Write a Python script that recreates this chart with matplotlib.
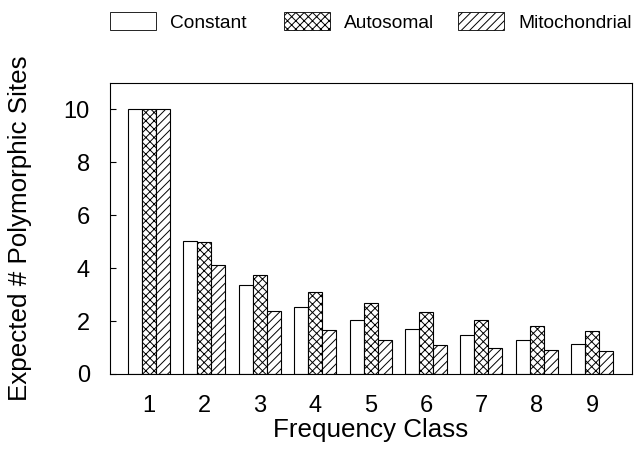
import matplotlib
matplotlib.use("Agg")
import matplotlib.pyplot as plt
import numpy as np
from matplotlib.patches import Patch

categories = [1, 2, 3, 4, 5, 6, 7, 8, 9]
constant = [10.0, 5.03, 3.36, 2.53, 2.04, 1.70, 1.47, 1.29, 1.14]
autosomal = [10.0, 5.0, 3.75, 3.09, 2.67, 2.33, 2.04, 1.82, 1.63]
mitochondrial = [10.0, 4.11, 2.37, 1.65, 1.28, 1.09, 0.97, 0.92, 0.87]
series_names = ["Constant", "Autosomal", "Mitochondrial"]
yticks = [0, 2, 4, 6, 8, 10]

plt.rcParams['font.family'] = ['Liberation Sans', 'DejaVu Sans']
plt.rcParams['hatch.linewidth'] = 0.7

fig = plt.figure(figsize=(6.36, 4.49), dpi=100)
ax = fig.add_axes([110/636, (449-374)/449, (632-110)/636, (374-83)/449])

x = np.array(categories, dtype=float)
w = 0.253
hatches = ['', 'xxxx', '////']
data = [constant, autosomal, mitochondrial]
for i, (vals, h, name) in enumerate(zip(data, hatches, series_names)):
    ax.bar(x + (i - 1) * w, vals, width=w, facecolor='white', edgecolor='black',
           linewidth=0.8, hatch=h, label=name)

ax.set_xlim(0.296, 9.72)
ax.set_ylim(0, 11)
ax.set_yticks(yticks)
ax.set_xticks(categories)
ax.tick_params(axis='y', direction='in', length=4, labelsize=17, pad=14.5)
ax.tick_params(axis='x', length=0, labelsize=17, pad=15)
for s in ax.spines.values():
    s.set_linewidth(0.8)
ax.set_xlabel("Frequency Class", fontsize=18.7, labelpad=1)
ax.set_ylabel("Expected # Polymorphic Sites", fontsize=18.7, labelpad=23)

# one legend per entry so each entry starts where the reference puts it
legend_lefts = [110, 284, 458]
for left, h, name in zip(legend_lefts, hatches, series_names):
    handle = Patch(facecolor='white', edgecolor='black', linewidth=0.6, hatch=h)
    fig.legend([handle], [name], loc='center left',
               bbox_to_anchor=(left/636, 1 - 22/449), borderpad=0, borderaxespad=0,
               frameon=False, fontsize=13.8, handlelength=2.4, handleheight=1.05,
               handletextpad=0.75)

fig.savefig("out.png", dpi=100)
